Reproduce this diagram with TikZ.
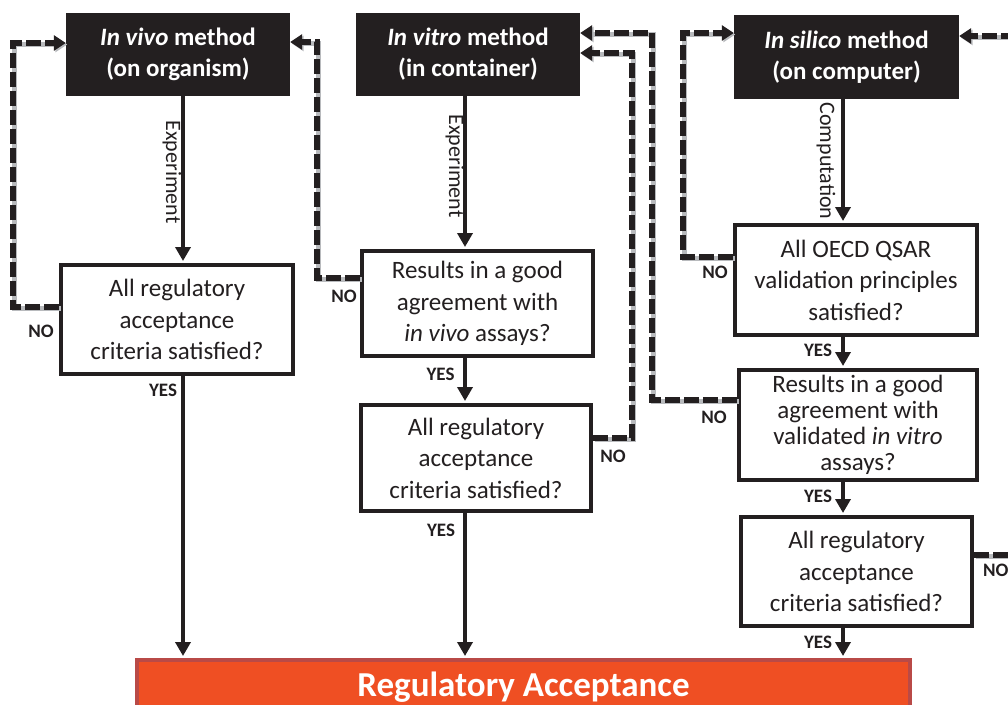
\documentclass[tikz,border=0pt]{standalone}
\usepackage{fontspec}
\setmainfont{Carlito}
\usetikzlibrary{arrows.meta}
\definecolor{ink}{HTML}{231F20}
\definecolor{barfill}{HTML}{EF4F23}
\definecolor{barline}{HTML}{B94A47}
\definecolor{shade}{HTML}{B8BABD}
\newcommand\dashlink[1]{\draw[noshadow] #1; \draw[nodash] #1;}
\begin{document}
\begin{tikzpicture}[x=1pt,y=-1pt,
  method/.style={fill=ink, text=white, font=\bfseries\fontsize{25}{31}\selectfont, align=center, inner sep=0pt},
  query/.style={draw=ink, line width=4pt, fill=white, text=ink, align=center, inner sep=0pt, font=\fontsize{25}{31.5}\selectfont},
  flow/.style={draw=ink, line width=4pt, shorten >=2pt, -{Triangle[length=14pt,width=15pt]}},
  nodash/.style={draw=ink, line width=5.5pt, dash pattern=on 15pt off 4pt, -{Triangle[length=12pt,width=15pt]}},
  noshadow/.style={draw=shade, line width=5pt, -{Triangle[length=12pt,width=15pt]}, transform canvas={shift={(1.5,1.5)}}},
  lab/.style={font=\bfseries\fontsize{19}{19}\selectfont, text=ink, inner sep=0pt},
  sidelabel/.style={font=\fontsize{22}{22}\selectfont, text=ink, rotate=-90, inner sep=0pt},
]
\useasboundingbox (0,0) rectangle (1008,704);
\clip (0,0) rectangle (1008,704);

% method boxes
\node[method, minimum width=224pt, minimum height=83pt] (vivo) at (178,54.5) {\textit{In vivo} method\\(on organism)};
\node[method, minimum width=224pt, minimum height=83pt] (vitro) at (468,54.5) {\textit{In vitro} method\\(in container)};
\node[method, minimum width=225pt, minimum height=84pt] (silico) at (846.5,57) {\textit{In silico} method\\(on computer)};

% decision boxes
\node[query, minimum width=232pt, minimum height=109pt] (dv) at (177,319.5) {All regulatory\\acceptance\\criteria satisfied?};
\node[query, minimum width=231pt, minimum height=105pt] (dt1) at (477.5,303.5) {Results in a good\\agreement with\\\textit{in vivo} assays?};
\node[query, minimum width=230pt, minimum height=106pt] (dt2) at (476,458) {All regulatory\\acceptance\\criteria satisfied?};
\node[query, minimum width=242pt, minimum height=110pt] (ds1) at (856,280) {All OECD QSAR\\validation principles\\satisfied?};
\node[query, minimum width=238pt, minimum height=110pt, font=\fontsize{25}{26}\selectfont] (ds2) at (858,425) {Results in a good\\agreement with\\validated \textit{in vitro}\\assays?};
\node[query, minimum width=231pt, minimum height=109pt] (ds3) at (856.5,571.5) {All regulatory\\acceptance\\criteria satisfied?};

% result bar
\node[fill=barfill, draw=barline, line width=4pt, minimum width=773pt, minimum height=54pt, inner sep=0pt, text=white, font=\bfseries\fontsize{35}{35}\selectfont] (ra) at (523.5,687) {Regulatory Acceptance};

% columns
\coordinate (c1) at (183,0);
\coordinate (c2) at (465,0);
\coordinate (c3) at (843,0);

% solid flow arrows
\draw[flow] (vivo.south -| c1) -- (dv.north -| c1);
\draw[flow] (dv.south -| c1) -- (ra.north -| c1);
\draw[flow] (vitro.south -| c2) -- (dt1.north -| c2);
\draw[flow] (dt1.south -| c2) -- (dt2.north -| c2);
\draw[flow] (dt2.south -| c2) -- (ra.north -| c2);
\draw[flow] (silico.south -| c3) -- (ds1.north -| c3);
\draw[flow] (ds1.south -| c3) -- (ds2.north -| c3);
\draw[flow] (ds2.south -| c3) -- (ds3.north -| c3);
\draw[flow] (ds3.south -| c3) -- (ra.north -| c3);

% dashed NO loops
\dashlink{(dv.west |- 0,307) -- (13,307) -- (13,43) -- (vivo.west |- 0,43)}
\dashlink{(dt1.west |- 0,278) -- (317,278) -- (317,42) -- (vivo.east |- 0,42)}
\dashlink{(dt2.east |- 0,438) -- (632,438) -- (632,53) -- (vitro.east |- 0,53)}
\dashlink{(ds2.west |- 0,400) -- (652,400) -- (652,33) -- (vitro.east |- 0,33)}
\dashlink{(ds1.west |- 0,257) -- (683,257) -- (683,33) -- (silico.west |- 0,33)}
\coordinate (off1) at (1030,555);
\coordinate (off2) at (1030,36);
\dashlink{(ds3.east |- 0,555) -- (off1) -- (off2) -- (silico.east |- 0,36)}

% side labels
\node[sidelabel] (e1) at (172,172) {Experiment};
\node[sidelabel] (e2) at (455,166) {Experiment};
\node[sidelabel] (e3) at (826,161) {Computation};

% YES labels
\node[lab] (y1) at (163,390) {YES};
\node[lab] (y2) at (440.5,374) {YES};
\node[lab] (y3) at (441,530) {YES};
\node[lab] (y4) at (818,350) {YES};
\node[lab] (y5) at (818,496) {YES};
\node[lab] (y6) at (818,642) {YES};

% NO labels
\node[lab] (n1) at (41,331) {NO};
\node[lab] (n2) at (344,296) {NO};
\node[lab] (n3) at (613,456) {NO};
\node[lab] (n4) at (715,272) {NO};
\node[lab] (n5) at (714,417) {NO};
\node[lab, anchor=west] (n6) at (983,570) {NO};
\end{tikzpicture}
\end{document}
